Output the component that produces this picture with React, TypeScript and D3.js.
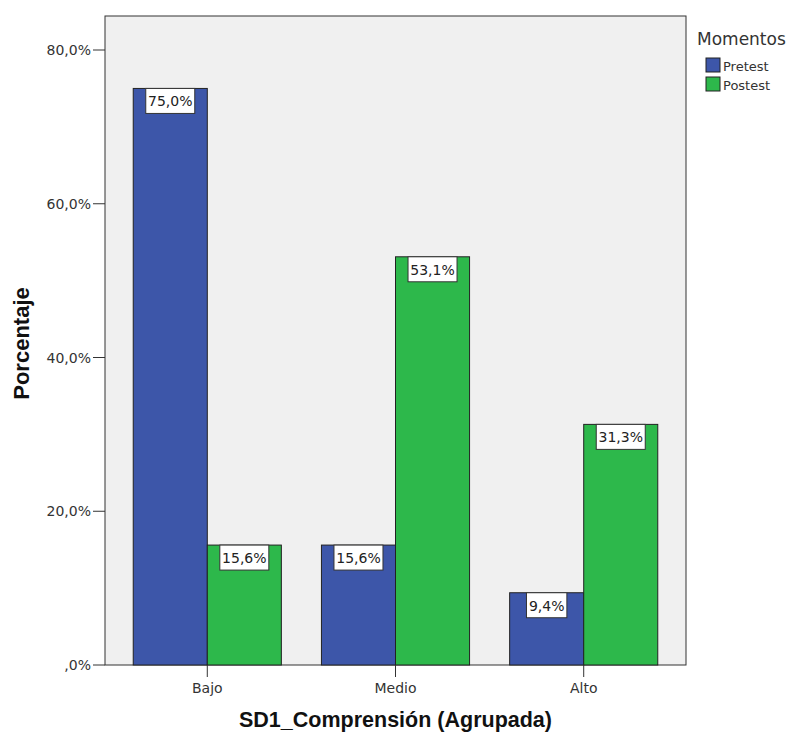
import React from "react";
import * as d3 from "d3";

const categories = ["Bajo", "Medio", "Alto"];
const seriesNames = ["Pretest", "Postest"];
const pretest = [75.0, 15.6, 9.4];
const postest = [15.6, 53.1, 31.3];
const yTicks = [0, 20, 40, 60, 80];

const colors = ["#3D56A9", "#2DB84B"];
const font = "'DejaVu Sans', sans-serif";
const boldFont = "Arial, 'Liberation Sans', sans-serif";

const fmt = (v: number) => (v === 0 ? ",0%" : v.toFixed(1).replace(".", ",") + "%");

export default function App() {
  const W = 789, H = 733;
  const left = 105, right = 686, top = 16, bottom = 665;

  const y = d3.scaleLinear().domain([0, 80]).range([bottom, 50]);
  const x = d3.scaleBand<string>().domain(categories).range([left, right]).paddingInner(0.213).paddingOuter(0.15);
  const xs = d3.scaleBand<string>().domain(seriesNames).range([0, x.bandwidth()]);

  const values = [pretest, postest];

  return (
    <svg width={W} height={H} style={{ position: "absolute", left: 0, top: 0, background: "#fff" }} fontFamily={font}>
      <rect x={left} y={top} width={right - left} height={bottom - top} fill="#F0F0F0" stroke="#333" strokeWidth={1} />
      {categories.map((c, i) =>
        seriesNames.map((s, j) => {
          const v = values[j][i];
          const bx = (x(c) as number) + (xs(s) as number);
          const bw = xs.bandwidth();
          const by = y(v);
          const label = fmt(v);
          const lw = label.length * 8.6 + 6;
          return (
            <g key={c + s}>
              <rect x={bx} y={by} width={bw} height={bottom - by} fill={colors[j]} stroke="#222" strokeWidth={1} />
              <rect x={bx + bw / 2 - lw / 2} y={by} width={lw} height={25} fill="#fff" stroke="#333" strokeWidth={1} />
              <text x={bx + bw / 2} y={by + 18} textAnchor="middle" fontSize={14} fill="#222">{label}</text>
            </g>
          );
        })
      )}
      {/* y axis */}
      {yTicks.map((t) => (
        <g key={t}>
          <line x1={left - 12} x2={left} y1={y(t)} y2={y(t)} stroke="#333" />
          <text x={left - 14} y={y(t) + 5} textAnchor="end" fontSize={14} fill="#333">{fmt(t)}</text>
        </g>
      ))}
      {/* x axis */}
      {categories.map((c) => {
        const cx = (x(c) as number) + x.bandwidth() / 2;
        return (
          <g key={c}>
            <line x1={cx} x2={cx} y1={bottom} y2={bottom + 12} stroke="#333" />
            <text x={cx} y={bottom + 28} textAnchor="middle" fontSize={14} fill="#333">{c}</text>
          </g>
        );
      })}
      <text transform={`translate(29,${(top + bottom) / 2 + 3}) rotate(-90)`} textAnchor="middle" fontFamily={boldFont} fontSize={22} fontWeight="bold" fill="#111">Porcentaje</text>
      <text x={(left + right) / 2} y={727} textAnchor="middle" fontFamily={boldFont} fontSize={21.5} fontWeight="bold" fill="#111">SD1_Comprensión (Agrupada)</text>
      {/* legend */}
      <text x={697} y={45} fontSize={17} fill="#333">Momentos</text>
      {seriesNames.map((s, j) => (
        <g key={s}>
          <rect x={706} y={58 + j * 19} width={14} height={14} fill={colors[j]} stroke="#222" />
          <text x={723} y={71 + j * 19} fontSize={13} fill="#333">{s}</text>
        </g>
      ))}
    </svg>
  );
}
